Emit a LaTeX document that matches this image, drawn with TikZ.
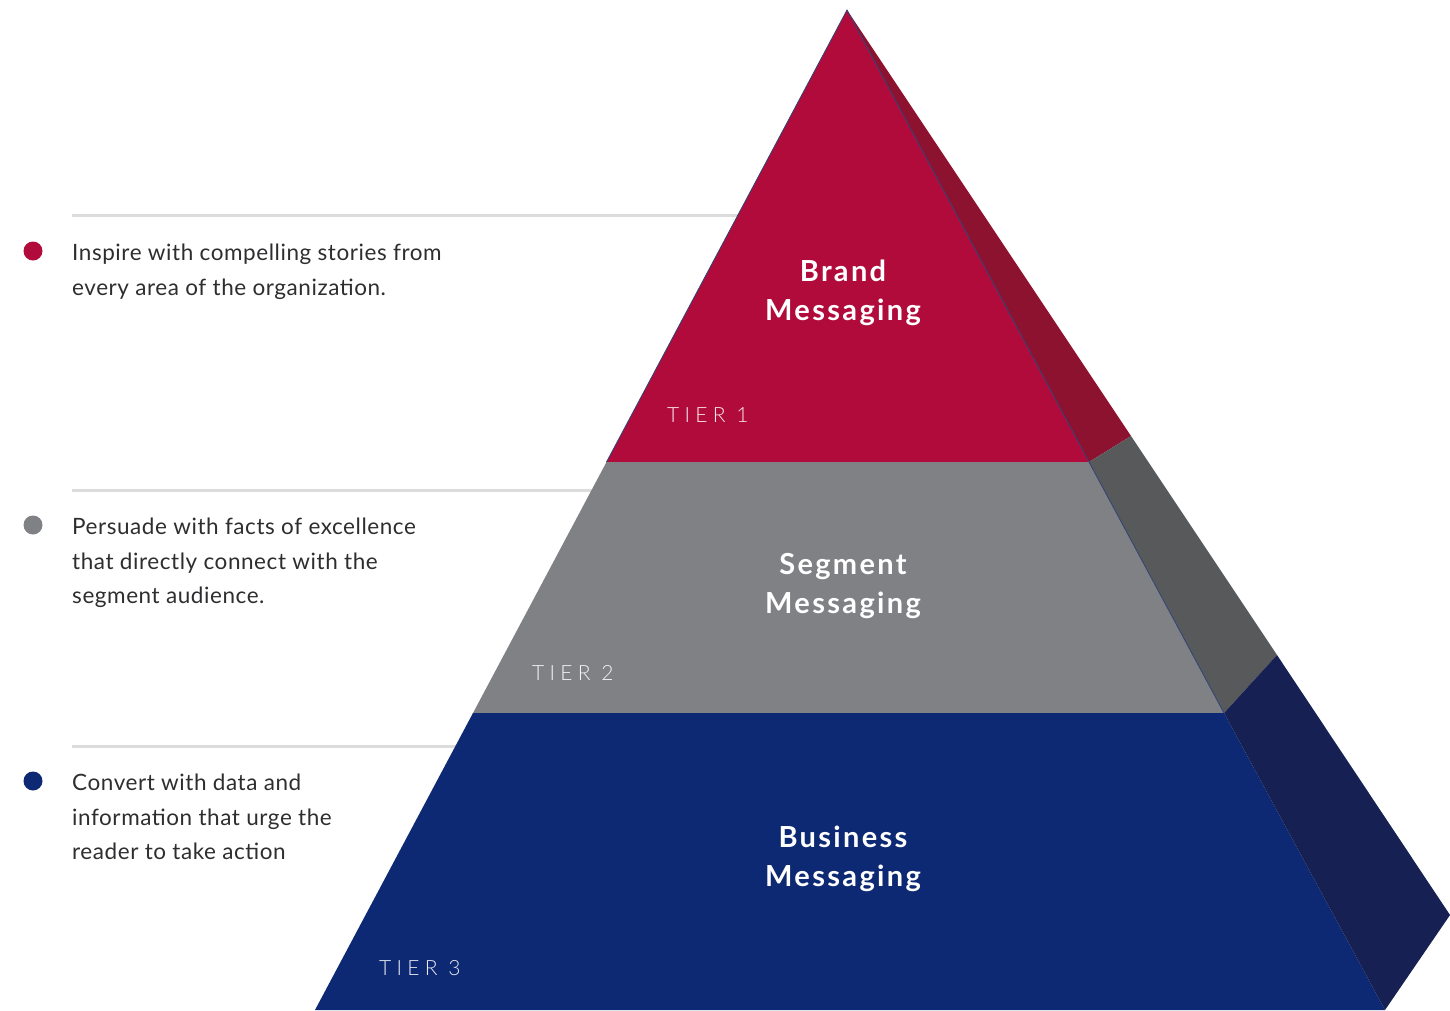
\documentclass[tikz,border=0pt]{standalone}
\usepackage{fontspec}
\setmainfont{Lato}
\newfontfamily\tierfont[LetterSpace=25]{Lato Light}
\newfontfamily\notefont[LetterSpace=2.5]{Lato}
\newfontfamily\titlefont[LetterSpace=8]{Lato Bold}
\usetikzlibrary{
  positioning
}

\definecolor{brandred}{HTML}{B10B3C}
\definecolor{brandside}{HTML}{8C1230}
\definecolor{segmentgray}{HTML}{808184}
\definecolor{segmentside}{HTML}{58595B}
\definecolor{businessblue}{HTML}{0D2973}
\definecolor{businessside}{HTML}{162052}
\definecolor{notetext}{HTML}{2E2E30}
\definecolor{rulegray}{HTML}{DCDCDC}

\begin{document}
\begin{tikzpicture}[
  x=1pt, y=-1pt,
  rule/.style={rulegray, line width=3pt},
  dot/.style={circle, inner sep=0pt, minimum size=19pt},
  note/.style={anchor=north west, inner sep=0pt, align=left, text=notetext,
    font=\fontsize{22.5}{34.5}\selectfont\notefont},
  title/.style={text=white, align=center, inner sep=0pt,
    font=\fontsize{29}{38.5}\selectfont\titlefont},
  tier/.style={text=white, text opacity=0.9, anchor=base west, inner sep=0pt,
    font=\fontsize{21}{24}\selectfont\tierfont},
]
\useasboundingbox (0,0) rectangle (1450,1010);

% separators and notes on the left
\draw[rule] (72,215) -- (760,215);
\draw[rule] (72,490) -- (620,490);
\draw[rule] (72,746) -- (480,746);

\node[dot, fill=brandred] (dot1) at (33,251) {};
\node[dot, fill=segmentgray] (dot2) at (33,525) {};
\node[dot, fill=businessblue] (dot3) at (33,781) {};

\node[note] (note1) at (72,244) {Inspire with compelling stories from\\every area of the organization.};
\node[note] (note2) at (72,518) {Persuade with facts of excellence\\that directly connect with the\\segment audience.};
\node[note] (note3) at (72,774) {Convert with data and\\information that urge the\\reader to take action};

% pyramid corners
\coordinate (apex) at (847,10);
\coordinate (bl) at (315,1010);
\coordinate (br) at (1385,1010);
\coordinate (side) at (1450,915);
\coordinate (t1l) at (606.5,462);
\coordinate (t1r) at (1089,462);
\coordinate (s1) at (1131,436);
\coordinate (t2l) at (473,713);
\coordinate (t2r) at (1224,713);
\coordinate (s2) at (1277,655);

% front faces
\fill[brandred] (apex) -- (t1r) -- (t1l) -- cycle;
\fill[segmentgray] (t1l) -- (t1r) -- (t2r) -- (t2l) -- cycle;
\fill[businessblue] (t2l) -- (t2r) -- (br) -- (bl) -- cycle;

% side faces
\fill[brandside] (apex) -- (s1) -- (t1r) -- cycle;
\fill[segmentside] (t1r) -- (s1) -- (s2) -- (t2r) -- cycle;
\fill[businessside] (t2r) -- (s2) -- (side) -- (br) -- cycle;

\draw[businessblue!70!gray, line width=0.8pt] (t1l) -- (apex) -- (t1r) -- (t2r);

% labels
\node[title] (brand) at (843,293) {Brand\\Messaging};
\node[title] (segment) at (843,586) {Segment\\Messaging};
\node[title] (business) at (843,859) {Business\\Messaging};

\node[tier] (tier1) at (667,422) {TIER 1};
\node[tier] (tier2) at (532,680) {TIER 2};
\node[tier] (tier3) at (379,975) {TIER 3};
\end{tikzpicture}
\end{document}
